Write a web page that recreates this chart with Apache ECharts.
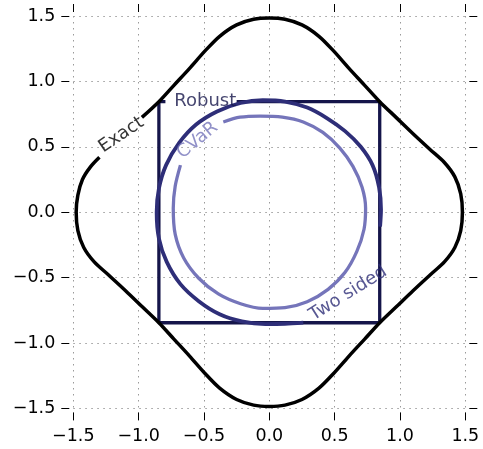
<!DOCTYPE html>
<html>
<head>
<meta charset="utf-8">
<script src="https://cdn.jsdelivr.net/npm/echarts@6/dist/echarts.min.js"></script>
<style>html,body{margin:0;padding:0;background:#fff}#c{width:483px;height:449px}</style>
</head>
<body>
<div id="c"></div>
<script>
// ---- data ----
const tickValues = [-1.5, -1.0, -0.5, 0.0, 0.5, 1.0, 1.5];

const exactCurve = [
  [-1.30,0.42],[-1.37,0.345],[-1.43,0.25],[-1.465,0.13],[-1.478,0.0],[-1.465,-0.14],[-1.42,-0.27],
  [-1.34,-0.38],[-1.23,-0.48],[-1.10,-0.60],[-0.97,-0.725],[-0.845,-0.845],[-0.73,-0.97],[-0.61,-1.10],
  [-0.49,-1.235],[-0.38,-1.345],[-0.25,-1.432],[-0.12,-1.475],[0.0,-1.485],[0.12,-1.475],[0.25,-1.432],
  [0.38,-1.345],[0.49,-1.235],[0.61,-1.10],[0.73,-0.97],[0.845,-0.845],[0.97,-0.725],[1.10,-0.60],
  [1.23,-0.48],[1.34,-0.38],[1.42,-0.27],[1.465,-0.14],[1.478,0.0],[1.465,0.14],[1.42,0.27],[1.34,0.38],
  [1.23,0.48],[1.10,0.60],[0.97,0.725],[0.845,0.845],[0.73,0.97],[0.61,1.10],[0.49,1.235],[0.38,1.345],
  [0.25,1.432],[0.12,1.475],[0.0,1.485],[-0.12,1.475],[-0.25,1.432],[-0.38,1.345],[-0.49,1.235],
  [-0.61,1.10],[-0.73,0.97],[-0.845,0.845],[-0.975,0.725]
];

const robustBox = [
  [-0.25,0.845],[0.845,0.845],[0.845,-0.845],[-0.845,-0.845],[-0.845,0.845],[-0.795,0.845]
];

const twoSidedCurve = [
  [0.848,-0.11],[0.855,0.02],[0.84,0.19],[0.79,0.36],[0.70,0.50],[0.58,0.62],[0.44,0.72],[0.29,0.80],
  [0.12,0.846],[-0.05,0.856],[-0.22,0.835],[-0.40,0.77],[-0.56,0.67],[-0.69,0.53],[-0.79,0.36],[-0.845,0.18],
  [-0.862,0.0],[-0.845,-0.2],[-0.785,-0.38],[-0.68,-0.55],[-0.54,-0.68],[-0.38,-0.78],[-0.21,-0.835],
  [-0.03,-0.855],[0.12,-0.853],[0.26,-0.845]
];

const cvarCurve = [
  [-0.352,0.69],[-0.224,0.726],[-0.071,0.735],[0.10,0.727],[0.26,0.69],[0.41,0.61],[0.54,0.49],
  [0.64,0.35],[0.71,0.19],[0.737,0.03],[0.725,-0.13],[0.67,-0.30],[0.58,-0.46],[0.45,-0.59],
  [0.29,-0.685],[0.12,-0.73],[-0.05,-0.736],[-0.22,-0.70],[-0.39,-0.625],[-0.54,-0.505],[-0.655,-0.35],
  [-0.72,-0.17],[-0.735,0.03],[-0.72,0.2],[-0.68,0.36]
];

// ---- chart ----
const FONT = "'DejaVu Sans'";
const FS = 17.5, LFS = 18;
const fmt = v => (v < 0 ? '\u2212' : '') + Math.abs(v).toFixed(1);
const gridLine = {show: true, lineStyle: {color: '#9a9a9a', width: 1, type: [1.5, 4.5]}};
function axis(extra) {
  return Object.assign({
    type: 'value', min: -1.5, max: 1.5, interval: 0.5, offset: 4,
    axisLine: {show: false, onZero: false},
    axisTick: {show: true, length: 8, inside: false, lineStyle: {color: '#000', width: 1}},
    splitLine: {show: false},
    axisLabel: {show: false}
  }, extra);
}
function labelSeries(name, pos, rot, color) {
  return {
    type: 'scatter', data: [pos], symbolSize: 0, silent: true, z: 10,
    label: {show: true, position: 'inside', formatter: name, rotate: rot, color: color,
            fontSize: LFS, fontFamily: FONT}
  };
}
const cRobust = '#15154a', cTwo = '#2e2e78', cCvar = '#7575ba';
const chart = echarts.init(document.getElementById('c'), null, {renderer: 'canvas'});
chart.setOption({
  animation: false,
  backgroundColor: '#fff',
  textStyle: {fontFamily: FONT},
  grid: {left: 73.3, right: 17.7, top: 16, bottom: 40.6, outerBoundsMode: 'none', containLabel: false},
  xAxis: [
    axis({position: 'bottom', splitLine: gridLine,
          axisLabel: {show: true, margin: 15, formatter: fmt, color: '#000', fontSize: FS, fontFamily: FONT}}),
    axis({position: 'top'})
  ],
  yAxis: [
    axis({position: 'left', splitLine: gridLine,
          axisLabel: {show: true, margin: 14, formatter: fmt, color: '#000', fontSize: FS, fontFamily: FONT}}),
    axis({position: 'right'})
  ],
  series: [
    {type: 'line', data: robustBox, symbol: 'none', lineStyle: {color: cRobust, width: 3.3}, z: 2},
    {type: 'line', data: twoSidedCurve, symbol: 'none', smooth: 0.3, lineStyle: {color: cTwo, width: 3.8}, z: 3},
    {type: 'line', data: cvarCurve, symbol: 'none', smooth: 0.3, lineStyle: {color: cCvar, width: 3.3}, z: 4},
    {type: 'line', data: exactCurve, symbol: 'none', smooth: 0.3, lineStyle: {color: '#000', width: 3.5}, z: 5},
    labelSeries('Exact', [-1.132, 0.591], 34, '#000'),
    labelSeries('Robust', [-0.49, 0.845], 0, cRobust),
    labelSeries('CVaR', [-0.549, 0.549], 40, cCvar),
    labelSeries('Two sided', [0.605, -0.622], 32, cTwo)
  ]
});
</script>
</body>
</html>
